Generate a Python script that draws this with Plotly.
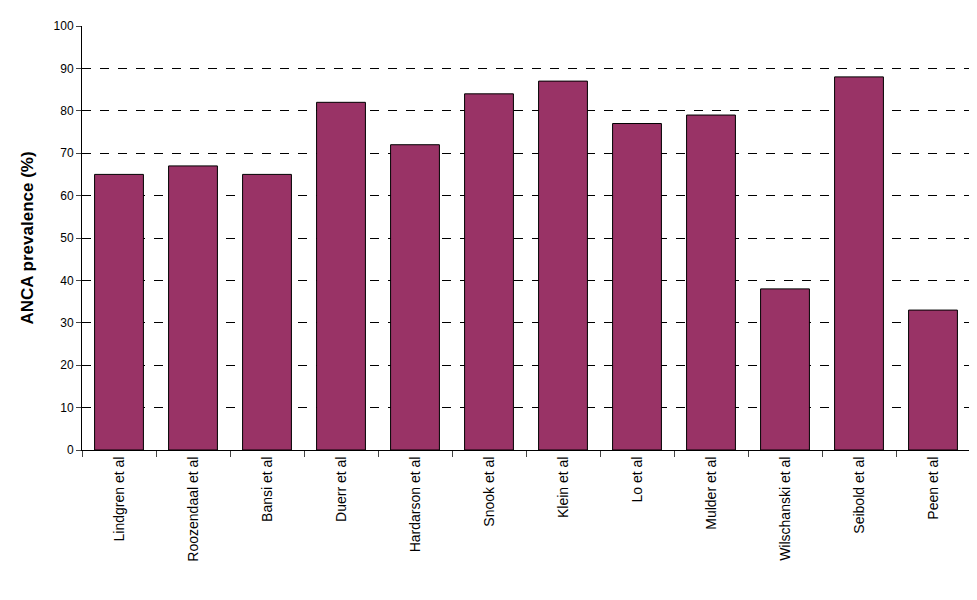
import plotly.graph_objects as go

studies = ["Lindgren et al", "Roozendaal et al", "Bansi et al", "Duerr et al",
           "Hardarson et al", "Snook et al", "Klein et al", "Lo et al",
           "Mulder et al", "Wilschanski et al", "Seibold et al", "Peen et al"]
prevalence = [65, 67, 65, 82, 72, 84, 87, 77, 79, 38, 88, 33]

fig = go.Figure(go.Bar(
    x=studies, y=prevalence,
    marker=dict(color="#993366", line=dict(color="black", width=1)),
    width=0.66,
))

# page has an 8px body margin, so shrink the figure to keep the plot in place
fig.update_layout(
    width=969, height=592,
    margin=dict(l=74, r=7, t=18, b=150),
    plot_bgcolor="white", paper_bgcolor="white",
    font=dict(family="Arial, Liberation Sans", size=13, color="black"),
    showlegend=False,
)
fig.update_yaxes(
    range=[0, 100], dtick=10,
    showgrid=True, gridcolor="black", griddash="dash", gridwidth=1,
    showline=True, linecolor="black", ticks="outside", ticklen=5,
    tickfont=dict(size=12),
    title=dict(text="<b>ANCA prevalence (%)</b>", font=dict(size=17)),
    zeroline=False, automargin=False,
)
fig.update_xaxes(
    tickangle=-90, showline=True, linecolor="black",
    ticks="outside", ticklen=6, tickson="boundaries",
    tickfont=dict(size=14), automargin=False,
)

fig.write_html("out.html")
